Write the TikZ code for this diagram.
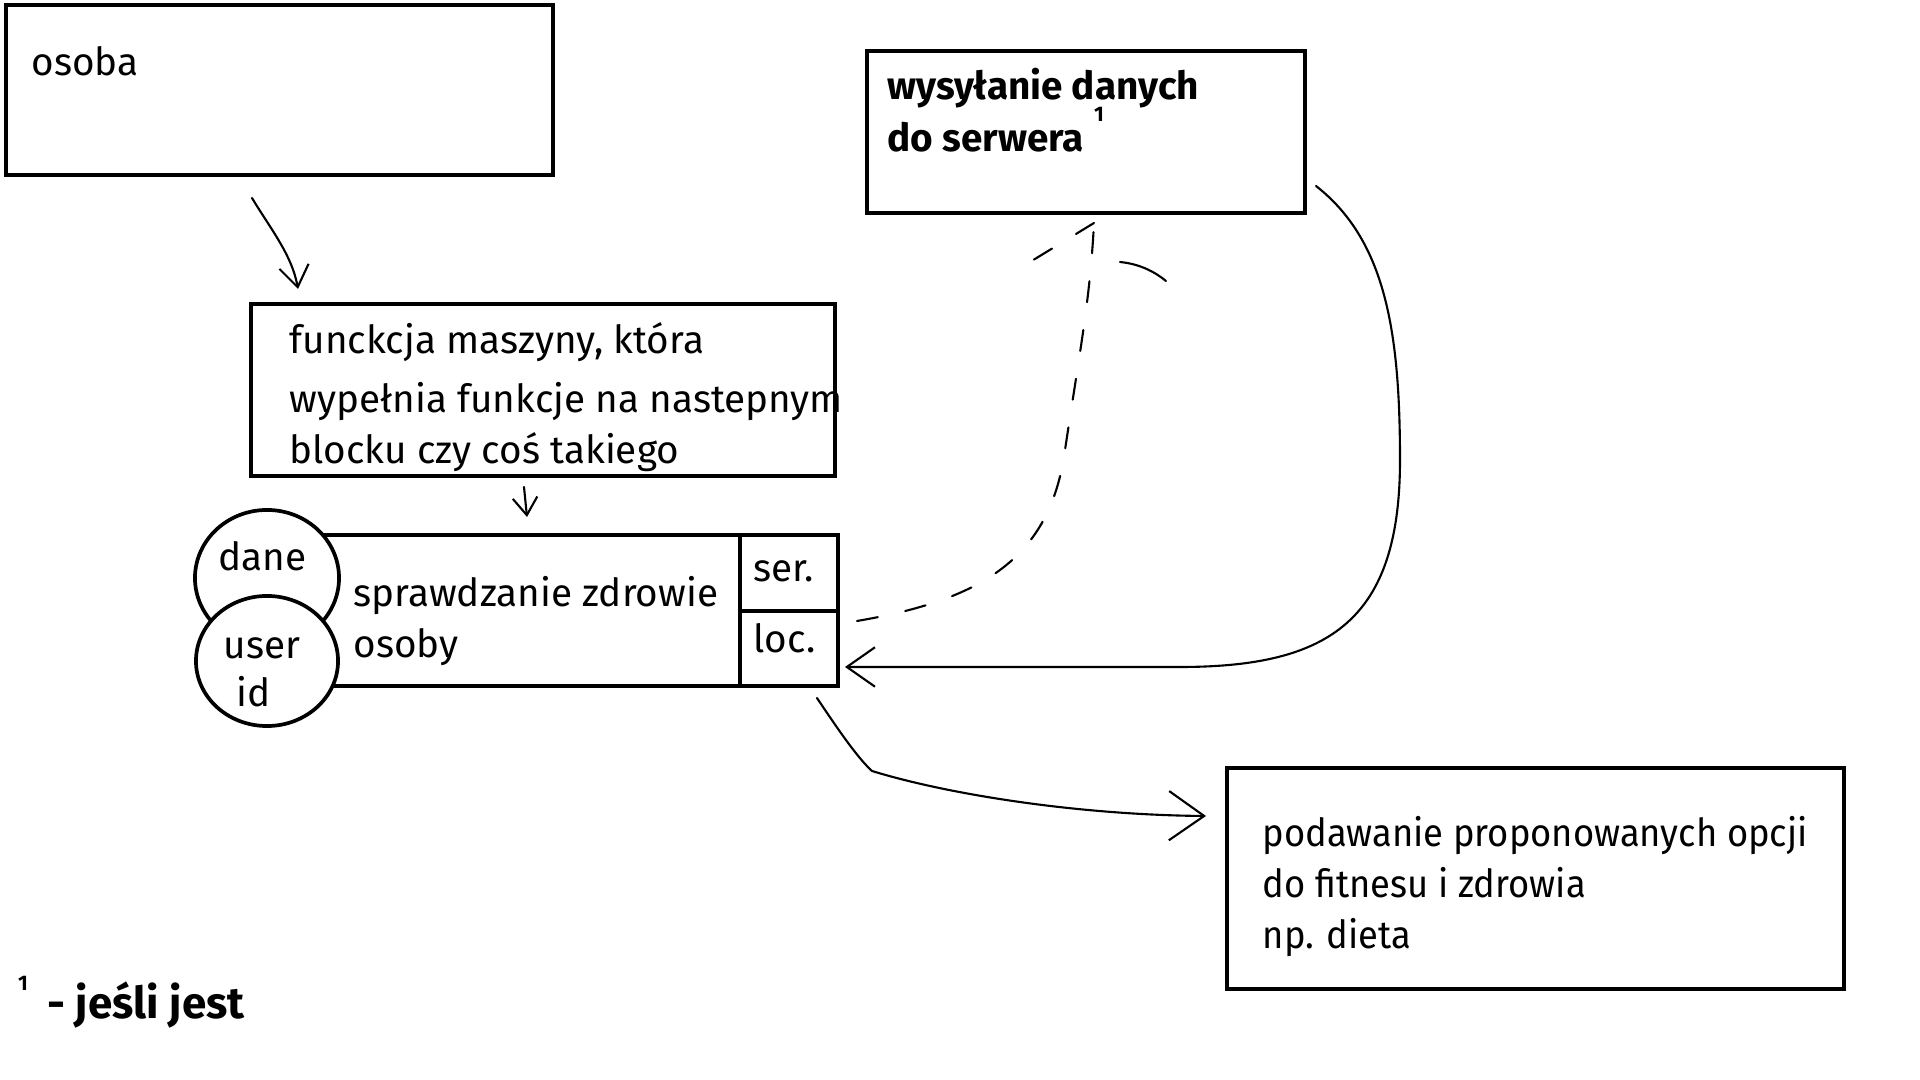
\documentclass[tikz,border=0pt]{standalone}
\usepackage{fontspec}
\setmainfont{Fira Sans}
\usetikzlibrary{arrows.meta,shapes.geometric}
\begin{document}
\begin{tikzpicture}[x=0.01cm,y=-0.01cm,
  box/.style={draw,line width=1.15pt,rectangle,inner sep=0pt},
  txt/.style={anchor=base west,inner sep=0pt,font=\fontsize{11}{13}\selectfont},
  btxt/.style={txt,font=\fontsize{11}{13}\selectfont\bfseries},
  sup/.style={inner sep=0pt,font=\fontsize{6}{7}\selectfont\bfseries},
  ln/.style={line width=0.6pt,line cap=round,line join=round},
  dsh/.style={ln,dash pattern=on 6pt off 8pt},
  bub/.style={draw,fill=white,line width=1.05pt,ellipse,inner sep=0pt},
  tip/.style={-{Straight Barb[length=#1pt,width=1.4*#1pt]}}]
\useasboundingbox[fill=white] (0,0) rectangle (1920,1080);

% boxes
\node[box,minimum width=5.47cm,minimum height=1.70cm] (osoba) at (279.5,90) {};
\node[txt] (tosoba) at (31,76) {osoba};

\node[box,minimum width=4.38cm,minimum height=1.62cm] (wys) at (1086,132) {};
\node[btxt] (twys1) at (887,100) {wysyłanie danych};
\node[btxt] (twys2) at (887,152) {do serwera};
\node[sup] (s1) at (1099,114) {1};

\node[box,minimum width=5.84cm,minimum height=1.72cm] (funk) at (543,390) {};
\node[txt] (tf1) at (289,354) {funckcja maszyny, która};
\node[txt] (tf2) at (289,413) {wypełnia funkcje na nastepnym};
\node[txt] (tf3) at (289,464) {blocku czy coś takiego};

\node[box,minimum width=5.18cm,minimum height=1.51cm] (spr) at (579,610.5) {};
\draw[line width=1.15pt] (740,535) -- (740,686);
\draw[line width=1.15pt] (740,611) -- (838,611);
\node[txt] (tser) at (753,582) {ser.};
\node[txt] (tloc) at (753,653) {loc.};
\node[txt] (ts1) at (353,607) {sprawdzanie zdrowie};
\node[txt] (ts2) at (353,658) {osoby};

\node[bub,minimum width=1.44cm,minimum height=1.36cm] (dane) at (267,578) {};
\node[txt] (tdane) at (218,571) {dane};
\node[bub,minimum width=1.42cm,minimum height=1.30cm] (user) at (267,661) {};
\node[txt] (tuser) at (223,659) {user};
\node[txt] (tid) at (236,707) {id};

\node[box,minimum width=6.17cm,minimum height=2.21cm] (pod) at (1535.5,878.5) {};
\node[txt] (tp1) at (1262,847) {\scalebox{0.94}[1]{podawanie proponowanych opcji}};
\node[txt] (tp2) at (1262,898) {\scalebox{0.94}[1]{do fitnesu i zdrowia}};
\node[txt] (tp3) at (1262,949) {\scalebox{0.94}[1]{np. dieta}};

% footnote
\node[sup] (f1) at (23,983) {1};
\node[btxt,font=\fontsize{12.5}{14}\selectfont\bfseries] (tf) at (47,1019) {- jeśli jest};

% connectors
\coordinate (a1s) at (252,198);
\coordinate (a1e) at (298,289);
\draw[ln,tip=6] (a1s) .. controls (270,228) and (292,255) .. (a1e);

\coordinate (a2s) at (524,487);
\coordinate (a2e) at (527,517);
\draw[ln,tip=5] (a2s) -- (a2e);

\coordinate (a3s) at (1316,186);
\coordinate (a3e) at (845,667);
\draw[ln,tip=8] (a3s) .. controls (1385,240) and (1400,330) .. (1400,460)
  .. controls (1400,620) and (1330,667) .. (1180,667) -- (a3e);

\coordinate (a4s) at (817,698);
\coordinate (a4e) at (1206,816);
\draw[ln,tip=10] (a4s) .. controls (845,740) and (860,760) .. (872,771)
  .. controls (950,795) and (1080,815) .. (a4e);

\coordinate (a5s) at (857,621);
\coordinate (a5e) at (1094,223);
\draw[dsh] (a5s) .. controls (980,600) and (1050,560) .. (1065,450)
  .. controls (1080,350) and (1090,300) .. (a5e);
\draw[dsh] (a5e) -- (1030,262);
\draw[ln] (1120,262) .. controls (1140,264) and (1155,272) .. (1166,281);
\end{tikzpicture}
\end{document}
